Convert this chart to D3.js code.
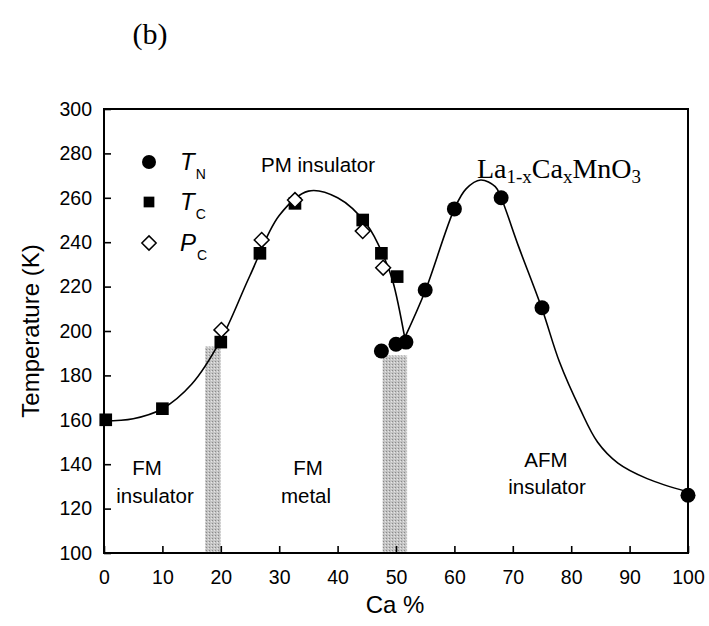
<!DOCTYPE html>
<html>
<head>
<meta charset="utf-8">
<script src="https://cdn.jsdelivr.net/npm/d3@7"></script>
<style>
  body { margin: 0; background: #fff; }
  svg text { font-family: "Liberation Sans", Arial, sans-serif; fill: #000; }
  .serif { font-family: "Liberation Serif", "Times New Roman", serif; }
</style>
</head>
<body>
<svg class="main" width="709" height="626"></svg>
<script>
'use strict';

// measured points, Ca % vs K
var tN = [[47.5, 191], [50, 194], [51.7, 195], [55, 218.5], [60, 255], [68, 260], [75, 210.5], [100, 126]];
var tC = [[0.3, 160], [10, 165], [20, 195], [26.7, 235], [32.7, 257.5], [44.3, 250], [47.5, 235], [50.2, 224.5]];
var pC = [[20.1, 200.5], [27, 241], [32.7, 259], [44.3, 245], [47.8, 228.5]];

// phase boundary
var leftBranch = [[0, 159.5], [5, 160.5], [10, 165], [15, 176], [20, 196], [25, 225], [30, 252], [35, 263], [40, 260], [45, 248], [48, 233], [49.5, 222], [51.5, 197]];
var rightBranch = [[51.5, 197], [55, 218], [60, 255], [62, 264], [64.5, 268], [67, 265], [68, 260], [71, 238], [75, 210], [78, 186], [81.5, 165], [84.5, 150], [88, 140.5], [93, 133.5], [100, 127.5]];

var bands = [[17.3, 20, 193], [47.7, 51.9, 189]];

var xTicks = [0, 10, 20, 30, 40, 50, 60, 70, 80, 90, 100];
var yTicks = [100, 120, 140, 160, 180, 200, 220, 240, 260, 280, 300];

var margin = {left: 104, right: 21, top: 109, bottom: 73};
var svg = d3.select('svg.main');
var w = 709 - margin.left - margin.right;
var h = 626 - margin.top - margin.bottom;

var x = d3.scaleLinear().domain([0, 100]).range([0, w]);
var y = d3.scaleLinear().domain([100, 300]).range([h, 0]);

var g = svg.append('g')
    .attr('transform', 'translate(' + margin.left + ',' + margin.top + ')');

// shaded crossover bands
var pat = svg.append('defs').append('pattern')
    .attr('id', 'stipple')
    .attr('width', 3).attr('height', 3)
    .attr('patternUnits', 'userSpaceOnUse');
pat.append('rect').attr('width', 3).attr('height', 3).attr('fill', '#c4c4c4');
pat.append('rect').attr('width', 1).attr('height', 1).attr('fill', '#8a8a8a');
pat.append('rect').attr('x', 2).attr('y', 1).attr('width', 1).attr('height', 1).attr('fill', '#e6e6e6');

g.selectAll('.band')
    .data(bands)
    .enter()
    .append('rect')
    .attr('class', 'band')
    .attr('x', function (d) { return x(d[0]); })
    .attr('width', function (d) { return x(d[1]) - x(d[0]); })
    .attr('y', function (d) { return y(d[2]); })
    .attr('height', function (d) { return y(100) - y(d[2]); })
    .attr('fill', 'url(#stipple)');

// axes: ticks point inward, no labels on top/right
var xAxis = d3.axisBottom(x).tickValues(xTicks).tickSizeInner(-7).tickSizeOuter(0).tickPadding(17);
var yAxis = d3.axisLeft(y).tickValues(yTicks).tickSizeInner(-7).tickSizeOuter(0).tickPadding(12);

var gx = g.append('g').attr('transform', 'translate(0,' + h + ')').call(xAxis);
var gy = g.append('g').call(yAxis);

[gx, gy].forEach(function (ax) {
    ax.select('.domain').remove();
    ax.selectAll('.tick line').attr('stroke', '#000').attr('stroke-width', 1.6);
    ax.selectAll('.tick text')
        .style('font-family', '"Liberation Sans", Arial, sans-serif')
        .style('font-size', '19.5px')
        .attr('fill', '#000');
});

g.append('rect')
    .attr('width', w).attr('height', h)
    .attr('fill', 'none')
    .attr('stroke', '#000')
    .attr('stroke-width', 2);

// boundary lines
var line = d3.line()
    .x(function (d) { return x(d[0]); })
    .y(function (d) { return y(d[1]); })
    .curve(d3.curveCatmullRom.alpha(0.5));

g.selectAll('.branch')
    .data([leftBranch, rightBranch])
    .enter()
    .append('path')
    .attr('class', 'branch')
    .attr('d', line)
    .attr('fill', 'none')
    .attr('stroke', '#000')
    .attr('stroke-width', 1.6);

var sq = d3.symbol().type(d3.symbolSquare).size(160);
var dia = d3.symbol().type(d3.symbolDiamond2).size(140);

g.selectAll('.tc')
    .data(tC)
    .enter()
    .append('path')
    .attr('class', 'tc')
    .attr('d', sq)
    .attr('transform', function (d) { return 'translate(' + x(d[0]) + ',' + y(d[1]) + ')'; })
    .attr('fill', '#000');

g.selectAll('.pc')
    .data(pC)
    .enter()
    .append('path')
    .attr('class', 'pc')
    .attr('d', dia)
    .attr('transform', function (d) { return 'translate(' + x(d[0]) + ',' + y(d[1]) + ')'; })
    .attr('fill', '#fff')
    .attr('stroke', '#000')
    .attr('stroke-width', 1.5);

g.selectAll('.tn')
    .data(tN)
    .enter()
    .append('circle')
    .attr('class', 'tn')
    .attr('cx', function (d) { return x(d[0]); })
    .attr('cy', function (d) { return y(d[1]); })
    .attr('r', 7.5)
    .attr('fill', '#000');

// legend
var legend = [
    {sym: 'circle', main: 'T', sub: 'N', y: 162},
    {sym: 'square', main: 'T', sub: 'C', y: 202},
    {sym: 'diamond', main: 'P', sub: 'C', y: 243}
];
legend.forEach(function (d) {
    if (d.sym === 'circle') {
        svg.append('circle').attr('cx', 149).attr('cy', d.y).attr('r', 7).attr('fill', '#000');
    } else if (d.sym === 'square') {
        svg.append('path').attr('d', d3.symbol().type(d3.symbolSquare).size(115))
            .attr('transform', 'translate(149,' + d.y + ')').attr('fill', '#000');
    } else {
        svg.append('path').attr('d', d3.symbol().type(d3.symbolDiamond2).size(130))
            .attr('transform', 'translate(149,' + d.y + ')')
            .attr('fill', '#fff').attr('stroke', '#000').attr('stroke-width', 1.5);
    }
    var t = svg.append('text').attr('x', 180).attr('y', d.y + 8).style('font-size', '24px');
    t.append('tspan').style('font-style', 'italic').text(d.main);
    t.append('tspan').attr('dy', 9).attr('dx', 1).style('font-size', '14px').text(d.sub);
});

// region labels
var labels = [
    {t: 'PM insulator', x: 318, y: 172},
    {t: 'FM', x: 147, y: 475},
    {t: 'insulator', x: 155, y: 503},
    {t: 'FM', x: 308, y: 475},
    {t: 'metal', x: 306, y: 503},
    {t: 'AFM', x: 546, y: 467},
    {t: 'insulator', x: 547, y: 494}
];
svg.selectAll('.lbl')
    .data(labels)
    .enter()
    .append('text')
    .attr('class', 'lbl')
    .attr('x', function (d) { return d.x; })
    .attr('y', function (d) { return d.y; })
    .attr('text-anchor', 'middle')
    .style('font-size', '20.5px')
    .text(function (d) { return d.t; });

// compound name
var cmp = svg.append('text').attr('class', 'serif').attr('x', 477).attr('y', 178).style('font-size', '28px');
cmp.append('tspan').text('La');
cmp.append('tspan').attr('dy', 5).style('font-size', '19px').text('1-x');
cmp.append('tspan').attr('dy', -5).text('Ca');
cmp.append('tspan').attr('dy', 5).style('font-size', '19px').text('x');
cmp.append('tspan').attr('dy', -5).text('MnO');
cmp.append('tspan').attr('dy', 5).style('font-size', '19px').text('3');

svg.append('text').attr('class', 'serif')
    .attr('x', 150).attr('y', 44)
    .attr('text-anchor', 'middle')
    .style('font-size', '30px')
    .text('(b)');

// axis titles
svg.append('text')
    .attr('x', margin.left + w / 2 - 1).attr('y', 613)
    .attr('text-anchor', 'middle')
    .style('font-size', '24px')
    .text('Ca %');

svg.append('text')
    .attr('transform', 'translate(39,331) rotate(-90)')
    .attr('text-anchor', 'middle')
    .style('font-size', '24px')
    .text('Temperature (K)');
</script>
</body>
</html>
